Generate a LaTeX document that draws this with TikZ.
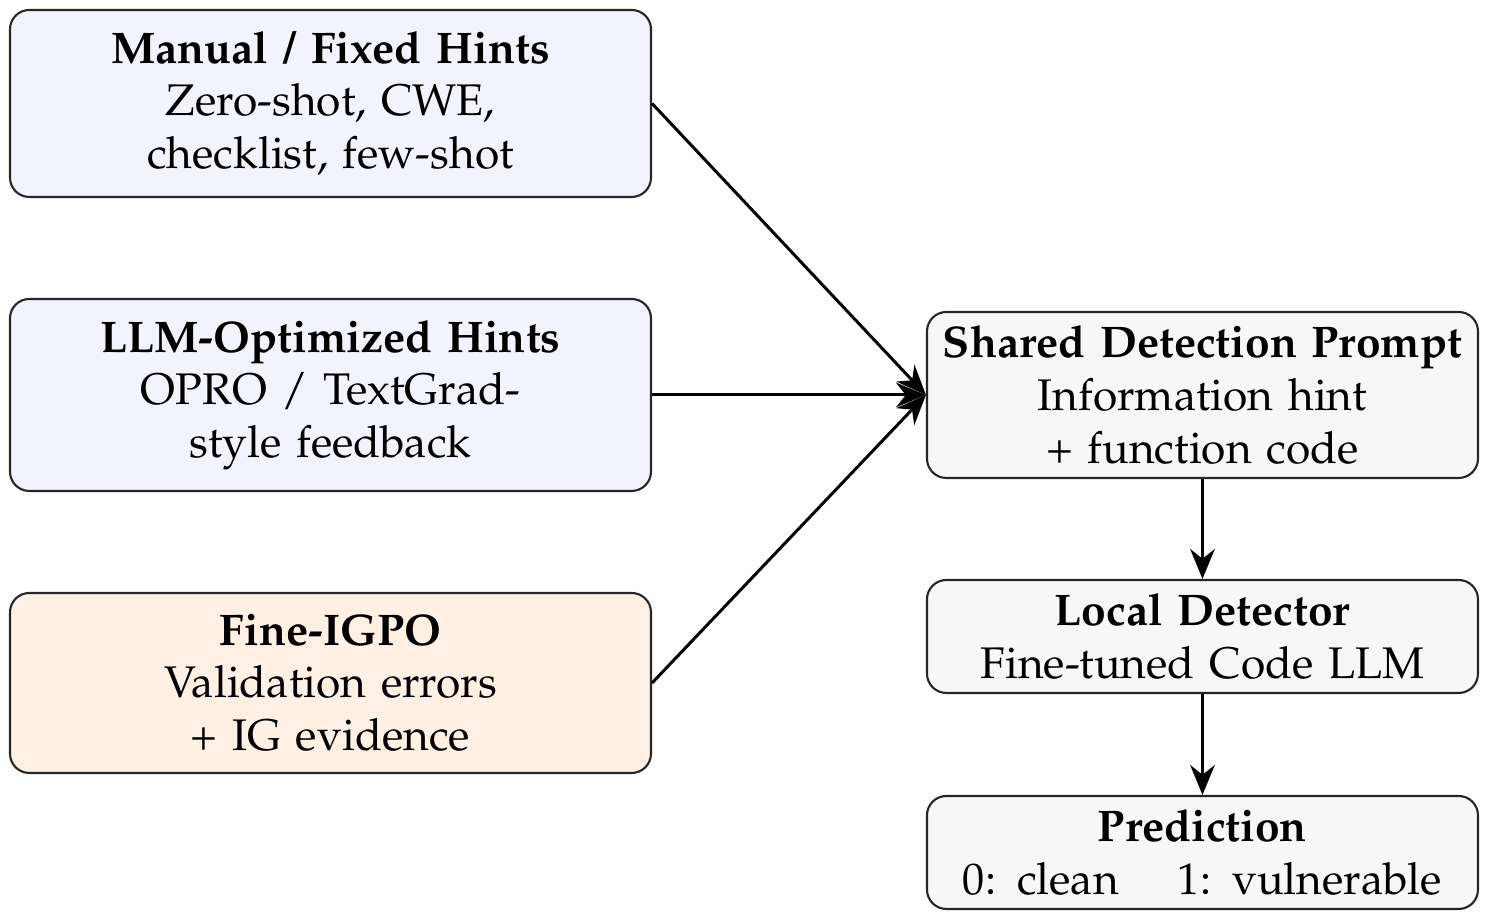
\documentclass[tikz,border=0pt]{standalone}
\usepackage[T1]{fontenc}
\usepackage{mathpazo}
\usepackage{xcolor}
\usetikzlibrary{positioning, calc, arrows.meta}

\definecolor{hintblue}{HTML}{F3F3FD}
\definecolor{hintorange}{HTML}{FFF0E3}
\definecolor{stagegray}{HTML}{F7F7F7}

\newcommand{\boxfont}{\fontsize{12.6}{15.0}\selectfont\spaceskip 4.2pt plus 1.2pt minus 0.6pt\relax
    \xspaceskip 6pt plus 1.5pt minus 0.6pt\relax}

\tikzset{
    box/.style={draw=black!85, line width=0.6pt, rounded corners=5.5pt, align=center,
                inner sep=2pt, font=\boxfont},
    hintbox/.style={box, fill=hintblue, minimum width=6.41cm},
    stagebox/.style={box, fill=stagegray, minimum width=5.51cm},
    flow/.style={-{Stealth[length=8.5pt,width=7pt]}, line width=0.85pt}
}

\begin{document}
\begin{tikzpicture}

    % Page frame
    \useasboundingbox (0,0) rectangle (14.88,9.19);

    % --- LEFT COLUMN: hint sources ---
    \node[hintbox, minimum height=1.87cm] (manual) at (3.305,8.155)
        {\textbf{Manual / Fixed Hints}\\ Zero-shot, CWE,\\ checklist, few-shot};
    \node[hintbox, minimum height=1.92cm] (llmopt) at (3.305,5.24)
        {\textbf{LLM-Optimized Hints}\\ OPRO / TextGrad-\\ style feedback};
    \node[hintbox, fill=hintorange, minimum height=1.80cm] (igpo) at (3.305,2.36)
        {\textbf{Fine-IGPO}\\ Validation errors\\ + IG evidence};

    % --- RIGHT COLUMN: detection pipeline ---
    \node[stagebox, minimum height=1.66cm] (prompt) at (12.025,5.24)
        {\textbf{Shared Detection Prompt}\\ Information hint\\ + function code};
    \node[stagebox, minimum height=1.13cm] (detector) at (12.025,2.825)
        {\textbf{Local Detector}\\ Fine-tuned Code LLM};
    \node[stagebox, minimum height=1.13cm] (pred) at (12.025,0.665)
        {\textbf{Prediction}\\ 0: clean \quad 1: vulnerable};

    % Hints into the shared prompt
    \draw[flow] (manual.east) -- (prompt.west);
    \draw[flow] (llmopt.east) -- (prompt.west);
    \draw[flow] (igpo.east) -- (prompt.west);

    % Pipeline
    \draw[flow] (prompt) -- (detector);
    \draw[flow] (detector) -- (pred);

\end{tikzpicture}
\end{document}
